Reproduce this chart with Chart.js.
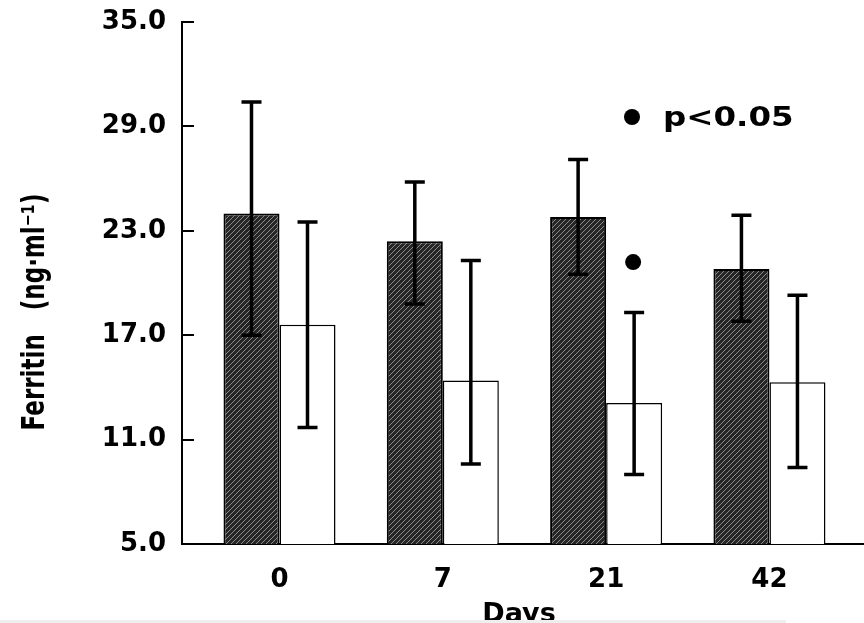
<!DOCTYPE html>
<html>
<head>
<meta charset="utf-8">
<script src="https://cdn.jsdelivr.net/npm/chart.js@4"></script>
<style>
  html, body { margin: 0; padding: 0; background: #fff; }
  #wrap { width: 864px; height: 623px; position: relative; }
</style>
</head>
<body>
<div id="wrap"><canvas id="ferritinChart"></canvas></div>
<script>
// values
const days = ['0', '7', '21', '42'];
const groupA = [24.0, 22.4, 23.8, 20.8];      // hatched bars
const groupAHigh = [30.4, 25.8, 27.1, 23.9];
const groupALow = [17.0, 18.8, 20.5, 17.8];
const groupB = [17.6, 14.4, 13.1, 14.3];      // open bars
const groupBHigh = [23.5, 21.3, 18.3, 19.3];
const groupBLow = [11.7, 9.6, 9.0, 9.4];
const groupBSig = [null, null, 21.2, null];   // * p<0.05
const yTicks = [5, 11, 17, 23, 29, 35];

const FONT = "'DejaVu Sans', sans-serif";

// diagonal hatch for the dark bars
function makeHatch() {
    const c = document.createElement('canvas');
    c.width = 5; c.height = 5;
    const g = c.getContext('2d');
    g.fillStyle = '#262626';
    g.fillRect(0, 0, 5, 5);
    g.strokeStyle = '#8c8c8c';
    g.lineWidth = 1;
    g.beginPath();
    g.moveTo(-1, 6); g.lineTo(6, -1);
    g.moveTo(-1, 1); g.lineTo(1, -1);
    g.moveTo(4, 6); g.lineTo(6, 4);
    g.stroke();
    return g.createPattern(c, 'repeat');
}
const hatch = makeHatch();

const errorBars = {
    id: 'errorBars',
    afterDatasetsDraw(chart) {
        const ctx = chart.ctx;
        const y = chart.scales.y;
        const sets = [[groupAHigh, groupALow], [groupBHigh, groupBLow]];
        ctx.save();
        ctx.strokeStyle = '#000';
        ctx.lineWidth = 3.5;
        sets.forEach((s, d) => {
            chart.getDatasetMeta(d).data.forEach((bar, i) => {
                const top = y.getPixelForValue(s[0][i]);
                const bot = y.getPixelForValue(s[1][i]);
                ctx.beginPath();
                ctx.moveTo(bar.x, top); ctx.lineTo(bar.x, bot);
                ctx.moveTo(bar.x - 10, top); ctx.lineTo(bar.x + 10, top);
                ctx.moveTo(bar.x - 10, bot); ctx.lineTo(bar.x + 10, bot);
                ctx.stroke();
            });
        });
        // significance marks
        ctx.fillStyle = '#000';
        chart.getDatasetMeta(1).data.forEach((bar, i) => {
            if (groupBSig[i] == null) return;
            ctx.beginPath();
            ctx.arc(bar.x - 1, y.getPixelForValue(groupBSig[i]), 8, 0, Math.PI * 2);
            ctx.fill();
        });
        ctx.restore();
    }
};

const decorations = {
    id: 'decorations',
    afterDraw(chart) {
        const ctx = chart.ctx;
        const area = chart.chartArea;
        const y = chart.scales.y;
        ctx.save();
        // inward tick marks
        ctx.strokeStyle = '#000';
        ctx.lineWidth = 2;
        ctx.beginPath();
        yTicks.slice(1).forEach(v => {
            const py = Math.round(y.getPixelForValue(v));
            ctx.moveTo(area.left, py); ctx.lineTo(area.left + 12, py);
        });
        ctx.stroke();

        // y title
        ctx.fillStyle = '#000';
        ctx.font = 'bold 23px ' + FONT;
        ctx.textAlign = 'center';
        ctx.textBaseline = 'middle';
        ctx.save();
        ctx.translate(36, 312);
        ctx.scale(1.35, 1);
        ctx.rotate(-Math.PI / 2);
        ctx.fillText('Ferritin   (ng\u00b7ml\u207b\u00b9)', 0, 0);
        ctx.restore();

        // x title
        ctx.font = 'bold 27px ' + FONT;
        ctx.textBaseline = 'top';
        ctx.fillText('Days', 519, 601);

        // legend note
        ctx.beginPath();
        ctx.arc(632, 117, 8, 0, Math.PI * 2);
        ctx.fill();
        ctx.save();
        ctx.translate(663, 119);
        ctx.scale(1.25, 1);
        ctx.textAlign = 'left';
        ctx.textBaseline = 'middle';
        ctx.font = 'bold 26px ' + FONT;
        ctx.fillText('p<0.05', 0, 0);
        ctx.restore();

        // scanner strip at the bottom
        ctx.fillStyle = '#efefef';
        ctx.fillRect(0, 620, 786, 3);
        ctx.restore();
    }
};

const ctx = document.getElementById('ferritinChart').getContext('2d');
const ferritinChart = new Chart(ctx, {
    type: 'bar',
    data: {
        datasets: [{
            data: groupA.map((v, i) => ({ x: i, y: v })),
            backgroundColor: hatch,
            borderColor: '#000',
            borderWidth: 2,
            borderSkipped: 'bottom'
        }, {
            data: groupB.map((v, i) => ({ x: i, y: v })),
            backgroundColor: '#fff',
            borderColor: '#000',
            borderWidth: 1.5,
            borderSkipped: 'bottom'
        }]
    },
    options: {
        responsive: true,
        maintainAspectRatio: false,
        animation: false,
        barPercentage: 1,
        categoryPercentage: 0.686,
        layout: { padding: { top: 22, right: 0, left: 0, bottom: 0 } },
        plugins: { legend: { display: false }, tooltip: { enabled: false } },
        scales: {
            x: {
                type: 'linear',
                offset: false,
                min: -0.597,
                max: 3.579,
                afterBuildTicks: s => { s.ticks = days.map((d, i) => ({ value: i })); },
                afterFit: s => { s.height = 79; s.paddingLeft = 0; s.paddingRight = 0; },
                grid: { display: false, drawTicks: false },
                border: { color: '#000', width: 2 },
                ticks: {
                    color: '#000',
                    font: { family: FONT, size: 26, weight: 'bold' },
                    padding: 21,
                    callback: v => days[v]
                }
            },
            y: {
                min: 5,
                max: 35,
                afterBuildTicks: s => { s.ticks = yTicks.map(v => ({ value: v })); },
                afterFit: s => { s.width = 182; s.paddingTop = 0; s.paddingBottom = 0; },
                grid: { display: false, drawTicks: false },
                border: { color: '#000', width: 2 },
                ticks: {
                    color: '#000',
                    font: { family: FONT, size: 26, weight: 'bold' },
                    padding: 16,
                    callback: v => v.toFixed(1)
                }
            }
        }
    },
    plugins: [errorBars, decorations]
});
</script>
</body>
</html>
